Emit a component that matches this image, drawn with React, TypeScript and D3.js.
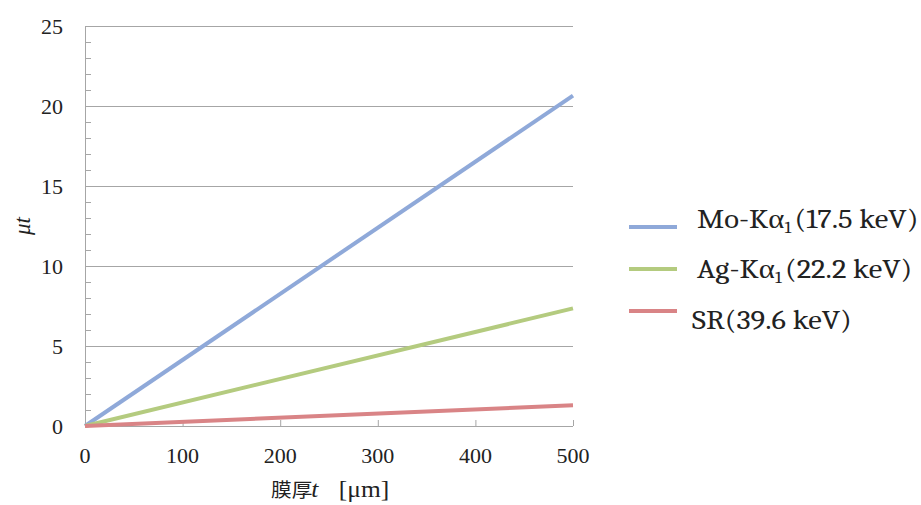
import React from "react";
import * as d3 from "d3";

// Film thickness t [µm] at the two ends of each straight line
const thickness = [0, 500];
const moValues = [0, 20.65];
const agValues = [0, 7.35];
const srValues = [0, 1.3];

// Legend labels: [prefix, subscript, suffix]
const seriesNames: [string, string, string][] = [
  ["Mo-Kα", "1", "(17.5 keV)"],
  ["Ag-Kα", "1", "(22.2 keV)"],
  ["SR(39.6 keV)", "", ""],
];
const seriesColors = ["#8FA9D9", "#B4CB7F", "#D98486"];

const xTicks = [0, 100, 200, 300, 400, 500];
const yTicks = [0, 5, 10, 15, 20, 25];
const yMinor = d3.range(0, 26, 1);

const W = 921;
const H = 505;
const plot = { left: 85, right: 573, top: 26, bottom: 426 };

const SERIF = { fontFamily: '"Liberation Serif", "Times New Roman", serif' };
const LEGEND_FONT = { fontFamily: '"Caladea", "Cambria", "Liberation Serif", serif' };
const CJK = { fontFamily: '"Noto Sans CJK JP", "Noto Sans CJK SC", sans-serif' };

export default function App() {
  const x = d3.scaleLinear().domain([0, 500]).range([plot.left, plot.right]);
  const y = d3.scaleLinear().domain([0, 25]).range([plot.bottom, plot.top]);
  const line = d3
    .line<[number, number]>()
    .x((d) => x(d[0]))
    .y((d) => y(d[1]));

  const series = [moValues, agValues, srValues].map((vals) =>
    thickness.map((t, i) => [t, vals[i]] as [number, number])
  );

  const legendBase = [228, 278, 329];
  const lineY = [227, 269, 311];
  const axisColor = "#A6A6A6";

  return (
    <svg
      width={W}
      height={H}
      style={{ position: "absolute", left: 0, top: 0, background: "#fff" }}
    >
      {/* horizontal gridlines */}
      {yTicks
        .filter((v) => v > 0)
        .map((v) => (
          <line
            key={"g" + v}
            x1={plot.left}
            x2={plot.right}
            y1={y(v) + 0.5}
            y2={y(v) + 0.5}
            stroke={axisColor}
            strokeWidth={1}
          />
        ))}
      {/* y axis with minor ticks */}
      <line x1={plot.left + 0.5} x2={plot.left + 0.5} y1={plot.top} y2={plot.bottom} stroke={axisColor} />
      {yMinor.map((v) => (
        <line
          key={"m" + v}
          x1={plot.left}
          x2={plot.left + 6}
          y1={y(v) + 0.5}
          y2={y(v) + 0.5}
          stroke={axisColor}
        />
      ))}
      {/* x axis */}
      <line x1={plot.left} x2={plot.right} y1={plot.bottom + 0.5} y2={plot.bottom + 0.5} stroke={axisColor} />
      {xTicks.map((v) => (
        <line
          key={"xt" + v}
          x1={x(v) + 0.5}
          x2={x(v) + 0.5}
          y1={plot.bottom}
          y2={plot.bottom - 6}
          stroke={axisColor}
        />
      ))}
      {/* tick labels */}
      {yTicks.map((v) => (
        <text
          key={"yl" + v}
          x={63}
          y={y(v)}
          dy="0.35em"
          textAnchor="end"
          fontSize={22}
          fill="#222"
          style={SERIF}
        >
          {v}
        </text>
      ))}
      {xTicks.map((v) => (
        <text
          key={"xl" + v}
          x={x(v)}
          y={455}
          dy="0.35em"
          textAnchor="middle"
          fontSize={22}
          fill="#222"
          style={SERIF}
        >
          {v}
        </text>
      ))}
      {/* series */}
      {series.map((pts, i) => (
        <path
          key={"s" + i}
          d={line(pts) || ""}
          fill="none"
          stroke={seriesColors[i]}
          strokeWidth={4}
        />
      ))}
      {/* axis titles */}
      <text
        transform="translate(22,226) rotate(-90)"
        textAnchor="middle"
        dy="0.35em"
        fontSize={23}
        fontStyle="italic"
        fill="#222"
        style={SERIF}
      >
        μt
      </text>
      <g transform="translate(271,497) scale(1.06,1)">
        <text x={0} y={0} fontSize={19.5} fill="#222" style={CJK}>
          膜厚
        </text>
        <text x={38} y={0} fontSize={24} fontStyle="italic" fill="#222" style={SERIF}>
          t
        </text>
        <text x={64} y={0} fontSize={24} fill="#222" style={SERIF}>
          [μm]
        </text>
      </g>
      {/* legend */}
      {seriesNames.map(([pre, sub, post], i) => (
        <g key={"lg" + i}>
          <line
            x1={629}
            x2={677}
            y1={lineY[i]}
            y2={lineY[i]}
            stroke={seriesColors[i]}
            strokeWidth={4}
          />
          <text
            transform={`translate(${i === 2 ? 692 : 697},${legendBase[i]}) scale(1.095,1)`}
            fontSize={28}
            fill="#222"
            style={LEGEND_FONT}
          >
            {pre}
            {sub && (
              <>
                <tspan fontSize={17} dy={5}>{sub}</tspan>
                <tspan dy={-5} dx={3}>{post}</tspan>
              </>
            )}
          </text>
        </g>
      ))}
    </svg>
  );
}
